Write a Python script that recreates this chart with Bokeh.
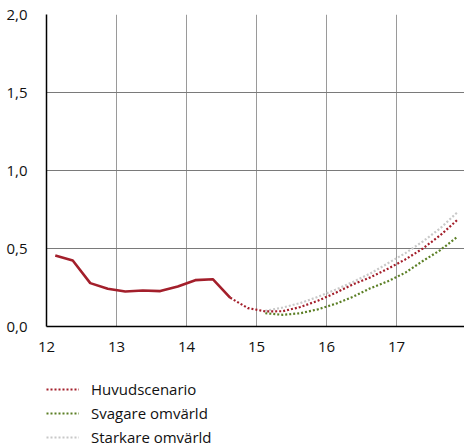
from bokeh.plotting import figure
from bokeh.layouts import column
from bokeh.models import (Range1d, FixedTicker, Legend, LegendItem, Label,
                          CustomJSTickFormatter)
from bokeh.embed import file_html
from bokeh.resources import INLINE

# Historical outcome, quarterly (x = year within 2000s, quarter midpoints)
hist_x = [12.125, 12.375, 12.625, 12.875, 13.125, 13.375, 13.625, 13.875,
          14.125, 14.375, 14.625]
hist_y = [0.455, 0.423, 0.278, 0.242, 0.224, 0.231, 0.227, 0.256,
          0.297, 0.303, 0.184]

# Main scenario forecast
main_x = [14.625, 14.875, 15.125, 15.375, 15.625, 15.875, 16.125, 16.375,
          16.625, 16.875, 17.125, 17.375, 17.625, 17.875]
main_y = [0.184, 0.118, 0.097, 0.098, 0.125, 0.165, 0.215, 0.27,
          0.315, 0.37, 0.43, 0.50, 0.585, 0.686]

# Alternative scenarios
scen_x = [15.125, 15.375, 15.625, 15.875, 16.125, 16.375, 16.625, 16.875,
          17.125, 17.375, 17.625, 17.875]
weak_y = [0.085, 0.075, 0.085, 0.11, 0.145, 0.19, 0.245, 0.29,
          0.345, 0.42, 0.49, 0.577]
strong_y = [0.10, 0.122, 0.15, 0.19, 0.235, 0.285, 0.34, 0.405,
            0.47, 0.545, 0.63, 0.735]

x_ticks = [12, 13, 14, 15, 16, 17]
y_ticks = [0.0, 0.5, 1.0, 1.5, 2.0]
labels = ["Huvudscenario", "Svagare omvärld", "Starkare omvärld"]
title_text = "Styrränta, procent, kvartalsmedelvärden"

RED = "#a31f2b"
GREEN = "#5b7f25"
GREY = "#c8c8c8"
FONT = "Open Sans"
DOT = dict(line_width=2.2, line_dash="2 2")

p = figure(width=464, height=356, output_backend="svg", toolbar_location=None,
           x_range=Range1d(12, 17.97), y_range=Range1d(0, 2.0),
           min_border_left=46, min_border_right=0, min_border_top=14,
           min_border_bottom=30)
p.outline_line_color = None
p.background_fill_color = "white"
p.border_fill_color = "white"

# axes
for ax in (p.xaxis[0], p.yaxis[0]):
    ax.axis_line_color = "black"
    ax.axis_line_width = 1.5
    ax.major_tick_line_color = None
    ax.minor_tick_line_color = None
    ax.major_label_text_font = FONT
    ax.major_label_text_font_size = "15px"
    ax.major_label_text_color = "#111111"

p.xaxis.ticker = FixedTicker(ticks=x_ticks)
p.yaxis.ticker = FixedTicker(ticks=y_ticks)
p.yaxis.formatter = CustomJSTickFormatter(code="return tick.toFixed(1).replace('.', ',');")
p.xaxis.major_label_standoff = 9
p.yaxis.major_label_standoff = 13

p.xgrid.ticker = FixedTicker(ticks=x_ticks[1:])
p.ygrid.ticker = FixedTicker(ticks=y_ticks[1:])
p.xgrid.grid_line_color = "#9a9a9a"
p.ygrid.grid_line_color = "#7a7a7a"
p.xgrid.grid_line_width = 1
p.ygrid.grid_line_width = 1

# forecast scenarios (dotted)
p.line(scen_x, strong_y, line_color=GREY, **DOT)
p.line(scen_x, weak_y, line_color=GREEN, **DOT)
p.line(main_x, main_y, line_color=RED, **DOT)
# outcome (solid)
p.line(hist_x, hist_y, line_color=RED, line_width=2.6)

# heading above the frame
p.add_layout(Label(x=12.06, y=2.0, y_offset=15, text=title_text,
                   text_font=FONT, text_font_size="13px",
                   text_baseline="alphabetic", text_color="#111111"))

# legend strip below the chart; its key lines carry the same series but the
# strip's ranges keep them out of view, so only the legend is drawn
leg = figure(width=464, height=87, output_backend="svg", toolbar_location=None,
             min_border=0, x_range=Range1d(0, 1), y_range=Range1d(5, 6))
leg.axis.visible = False
leg.grid.visible = False
leg.outline_line_color = None
k_main = leg.line(main_x, main_y, line_color=RED, **DOT)
k_weak = leg.line(scen_x, weak_y, line_color=GREEN, **DOT)
k_strong = leg.line(scen_x, strong_y, line_color=GREY, **DOT)

legend = Legend(items=[LegendItem(label=labels[0], renderers=[k_main]),
                       LegendItem(label=labels[1], renderers=[k_weak]),
                       LegendItem(label=labels[2], renderers=[k_strong])],
                location=(0, -4), orientation="vertical")
legend.label_text_font = FONT
legend.label_text_font_size = "15px"
legend.label_text_color = "#111111"
legend.glyph_width = 33
legend.glyph_height = 20
legend.label_height = 20
legend.spacing = 4
legend.label_standoff = 12
legend.padding = 0
legend.margin = 0
legend.border_line_color = None
legend.background_fill_alpha = 0
leg.add_layout(legend, "center")

open("out.html", "w").write(file_html(column(p, leg, spacing=0), INLINE))
